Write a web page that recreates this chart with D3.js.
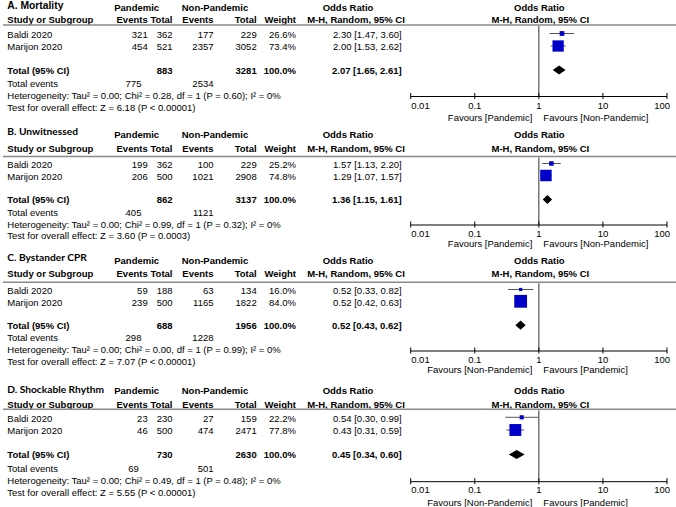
<!DOCTYPE html>
<html><head><meta charset="utf-8">
<script src="https://cdn.jsdelivr.net/npm/d3@7"></script>
<style>
html,body{margin:0;padding:0;background:#fff;}
svg{display:block;}
text{font-family:"Liberation Sans",Arial,sans-serif;font-size:9.5px;fill:#000;}
.b{font-weight:bold;}
.ttl{font-family:Lato,"Liberation Sans",sans-serif;font-weight:bold;font-size:10.2px;}
</style></head><body>
<svg id="c" width="676" height="507"></svg>
<script>
// ---------- data ----------
const titles = ["A. Mortality", "B. Unwitnessed", "C. Bystander CPR", "D. Shockable Rhythm"];
const studies = ["Baldi 2020", "Marijon 2020"];
const pandEvents = [[321, 454], [199, 206], [59, 239], [23, 46]];
const pandTotal = [[362, 521], [362, 500], [188, 500], [230, 500]];
const nonEvents = [[177, 2357], [100, 1021], [63, 1165], [27, 474]];
const nonTotal = [[229, 3052], [229, 2908], [134, 1822], [159, 2471]];
const weights = [[26.6, 73.4], [25.2, 74.8], [16.0, 84.0], [22.2, 77.8]];
const orVal = [[2.30, 2.00], [1.57, 1.29], [0.52, 0.52], [0.54, 0.43]];
const orLo = [[1.47, 1.53], [1.13, 1.07], [0.33, 0.42], [0.30, 0.31]];
const orHi = [[3.60, 2.62], [2.20, 1.57], [0.82, 0.63], [0.99, 0.59]];
const sumPandTotal = [883, 862, 688, 730];
const sumNonTotal = [3281, 3137, 1956, 2630];
const sumPandEvents = [775, 405, 298, 69];
const sumNonEvents = [2534, 1121, 1228, 501];
const poolOR = [2.07, 1.36, 0.52, 0.45];
const poolLo = [1.65, 1.15, 0.43, 0.34];
const poolHi = [2.61, 1.61, 0.62, 0.60];
const tau2 = [0.00, 0.00, 0.00, 0.00];
const chi2 = [0.28, 0.99, 0.00, 0.49];
const dfs = [1, 1, 1, 1];
const pHet = [0.60, 0.32, 0.99, 0.48];
const i2 = [0, 0, 0, 0];
const zVal = [6.18, 3.60, 7.07, 5.55];
const pZ = ["< 0.00001", "= 0.0003", "< 0.00001", "< 0.00001"];
const favours = [["Favours [Pandemic]", "Favours [Non-Pandemic]"], ["Favours [Pandemic]", "Favours [Non-Pandemic]"],
                 ["Favours [Non-Pandemic]", "Favours [Pandemic]"], ["Favours [Non-Pandemic]", "Favours [Pandemic]"]];
const tickVals = [0.01, 0.1, 1, 10, 100];
const tickLabels = ["0.01", "0.1", "1", "10", "100"];

// ---------- layout (vertical centers per panel) ----------
const layout = [
  {title: 5.5, pand: 8, sos: 20, line: 25, r: [34.5, 47], total: 70.5, te: 84, het: 96, test: 108, axis: 96.5, tick: 105.5, fav: 117.3},
  {title: 131.7, pand: 135, sos: 148.3, line: 156.5, r: [164.5, 176.5], total: 200, te: 212.5, het: 224.5, test: 236, axis: 225, tick: 233.3, fav: 244},
  {title: 257.3, pand: 261, sos: 274, line: 282.3, r: [290.5, 302.3], total: 325.7, te: 338, het: 350, test: 361.5, axis: 351, tick: 359.3, fav: 370},
  {title: 390, pand: 391, sos: 405, line: 409.3, r: [418.3, 431], total: 455, te: 469, het: 481, test: 492.5, axis: 481.7, tick: 490, fav: 502.3}
];
const col = {study: 7.3, pe: 147.7, pt: 172.5, ne: 213.5, nt: 256.7, w: 296, or: 401.7, pand: 136.7, non: 215, orHead1: 348, orHead2: 356, teP: 133.5};
const dy = 3.4;

const svg = d3.select("#c");
const x = d3.scaleLog().domain([0.01, 100]).range([410.7, 667]);
const side = d3.scaleLinear().domain([0, 100]).range([1, 15]);
const f2 = d3.format(".2f");
const ciText = (o, l, h) => `${f2(o)} [${f2(l)}, ${f2(h)}]`;

function txt(g, s, xx, yy, anchor, cls) {
  return g.append("text").attr("x", xx).attr("y", yy + dy).attr("text-anchor", anchor || "start")
    .attr("class", cls || null).text(s);
}

titles.forEach((t, p) => {
  const L = layout[p];
  const g = svg.append("g");
  // titles and headers
  txt(g, t, 7.3, L.title, "start", p === 0 ? "b" : "ttl").style("font-size", p === 0 ? "10.3px" : null);
  txt(g, "Pandemic", col.pand, L.pand, "middle", "b");
  txt(g, "Non-Pandemic", col.non, L.pand, "middle", "b");
  txt(g, "Odds Ratio", col.orHead1, L.pand, "middle", "b");
  txt(g, "Odds Ratio", x(1) + 0.5, L.pand, "middle", "b");
  txt(g, "Study or Subgroup", col.study, L.sos, "start", "b");
  txt(g, "Events", col.pe, L.sos, "end", "b");
  txt(g, "Total", col.pt, L.sos, "end", "b");
  txt(g, "Events", col.ne, L.sos, "end", "b");
  txt(g, "Total", col.nt, L.sos, "end", "b");
  txt(g, "Weight", col.w, L.sos, "end", "b");
  txt(g, "M-H, Random, 95% CI", col.orHead2, L.sos, "middle", "b");
  txt(g, "M-H, Random, 95% CI", x(1) + 1.5, L.sos, "middle", "b");
  g.append("line").attr("x1", 3).attr("x2", 676).attr("y1", L.line).attr("y2", L.line)
    .attr("stroke", "#8a8a8a").attr("stroke-width", 1.6);

  // vertical line at OR = 1
  g.append("line").attr("x1", x(1)).attr("x2", x(1)).attr("y1", L.line + 1).attr("y2", L.axis)
    .attr("stroke", "#333").attr("stroke-width", 1);

  // study rows
  studies.forEach((s, i) => {
    const yy = L.r[i];
    txt(g, s, col.study, yy);
    txt(g, pandEvents[p][i], col.pe, yy, "end");
    txt(g, pandTotal[p][i], col.pt, yy, "end");
    txt(g, nonEvents[p][i], col.ne, yy, "end");
    txt(g, nonTotal[p][i], col.nt, yy, "end");
    txt(g, weights[p][i].toFixed(1) + "%", col.w, yy, "end");
    txt(g, ciText(orVal[p][i], orLo[p][i], orHi[p][i]), col.or, yy, "end");
    const my = yy - 1;
    g.append("line").attr("x1", x(orLo[p][i])).attr("x2", x(orHi[p][i])).attr("y1", my).attr("y2", my)
      .attr("stroke", "#555").attr("stroke-width", 1);
    const sd = side(weights[p][i]);
    g.append("rect").attr("x", x(orVal[p][i]) - sd / 2).attr("y", my - sd / 2)
      .attr("width", sd).attr("height", sd).attr("fill", "#0000c8");
  });

  // total row
  txt(g, "Total (95% CI)", col.study, L.total, "start", "b");
  txt(g, sumPandTotal[p], col.pt, L.total, "end", "b");
  txt(g, sumNonTotal[p], col.nt, L.total, "end", "b");
  txt(g, "100.0%", col.w, L.total, "end", "b");
  txt(g, ciText(poolOR[p], poolLo[p], poolHi[p]), col.or, L.total, "end", "b");
  const dyy = L.total - 0.5;
  const dpts = [[x(poolLo[p]), dyy], [x(poolOR[p]), dyy - 4.6], [x(poolHi[p]), dyy], [x(poolOR[p]), dyy + 4.6]];
  g.append("path").attr("d", d3.line()(dpts) + "Z").attr("fill", "#000");

  txt(g, "Total events", col.study, L.te);
  txt(g, sumPandEvents[p], col.teP, L.te, "middle");
  txt(g, sumNonEvents[p], col.ne, L.te, "end");
  txt(g, `Heterogeneity: Tau² = ${f2(tau2[p])}; Chi² = ${f2(chi2[p])}, df = ${dfs[p]} (P = ${f2(pHet[p])}); I² = ${i2[p]}%`, col.study, L.het);
  txt(g, `Test for overall effect: Z = ${f2(zVal[p])} (P ${pZ[p]})`, col.study, L.test);

  // axis
  const ax = g.append("g").attr("transform", `translate(0,${L.axis})`);
  ax.append("line").attr("x1", x.range()[0]).attr("x2", x.range()[1]).attr("y1", 0).attr("y2", 0)
    .attr("stroke", "#000").attr("stroke-width", 1);
  tickVals.forEach((v, k) => {
    ax.append("line").attr("x1", x(v)).attr("x2", x(v)).attr("y1", -3.5).attr("y2", 2.5)
      .attr("stroke", "#000").attr("stroke-width", 1);
    const anchor = k === 0 ? "start" : (k === tickVals.length - 1 ? "end" : "middle");
    const off = k === 0 ? 0.5 : (k === tickVals.length - 1 ? 3 : 0);
    txt(g, tickLabels[k], x(v) + off, L.tick, anchor);
  });
  txt(g, favours[p][0], x(1) - 6.5, L.fav, "end");
  txt(g, favours[p][1], x(1) + 4.5, L.fav, "start");
});
</script>
</body></html>
